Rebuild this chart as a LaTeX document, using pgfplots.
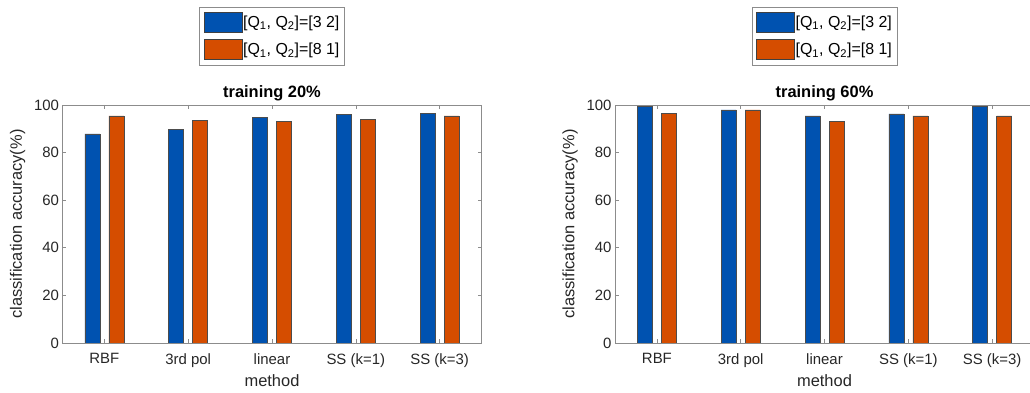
\documentclass[border=0pt]{standalone}
\usepackage{fontspec}
\setmainfont{Liberation Sans}
\usepackage{pgfplots}
\pgfplotsset{compat=1.18}

\definecolor{barblue}{RGB}{0,82,176}
\definecolor{barorange}{RGB}{213,77,0}
\definecolor{axgray}{RGB}{140,140,140}
\definecolor{txt}{RGB}{38,38,38}

% accuracy (%) per method: RBF, 3rd pol, linear, SS (k=1), SS (k=3)
\pgfplotsset{
  swatch/.style={legend image code/.code={%
      \draw[##1, draw=black!75, line width=0.5bp] (0bp,-10bp) rectangle (38bp,10bp);}},
  accplot/.style={
    scale only axis, width=419bp, height=238bp, anchor=south west,
    xmin=0.5, xmax=5.5, ymin=0, ymax=100,
    xtick={1,...,5}, ytick={0,20,...,100},
    xticklabels={RBF,3rd pol,linear,SS (k=1),SS (k=3)},
    tick align=inside, major tick length=4bp,
    axis line style={axgray, line width=0.7bp},
    tick style={axgray, line width=0.6bp},
    /pgf/number format/assume math mode=true,
    font=\fontsize{15}{18}\selectfont,
    ticklabel style={text=txt, font=\fontsize{15}{18}\selectfont},
    xticklabel style={yshift=-7bp},
    label style={text=txt, font=\fontsize{16.5}{19}\selectfont},
    xlabel={method}, ylabel={classification accuracy(\%)},
    xlabel style={at={(axis description cs:0.5,-0.16)}, anchor=center},
    ylabel style={at={(axis description cs:-0.107,0.5)}, anchor=center},
    title style={at={(axis description cs:0.5,1.05)}, anchor=center, yshift=-6bp,
      font=\bfseries\fontsize{16.5}{19}\selectfont, text=black},
    legend style={at={(axis description cs:0.5,1.168)}, anchor=south, draw=axgray,
      font=\fontsize{16}{19}\selectfont, text=black,
      nodes={inner xsep=1bp, inner ysep=1bp},
      cells={anchor=west}, row sep=7bp, inner xsep=4bp, inner ysep=5bp},
  },
  bluebar/.style={ybar, bar width=15bp, bar shift=-12bp,
    fill=barblue, draw=black!70, line width=0.5bp, swatch},
  orangebar/.style={ybar, bar width=15bp, bar shift=12bp,
    fill=barorange, draw=black!70, line width=0.5bp, swatch},
}

\begin{document}
\begin{tikzpicture}
\useasboundingbox (0bp,0bp) rectangle (1030bp,393bp);

\begin{axis}[accplot, at={(62.5bp,50bp)}, title={training 20\%}]
  \addplot[bluebar] coordinates {(1,87.9) (2,89.9) (3,94.8) (4,96.1) (5,96.6)};
  \addlegendentry{[Q\textsubscript{1}, Q\textsubscript{2}]=[3 2]}
  \addplot[orangebar] coordinates {(1,95.4) (2,93.6) (3,93.0) (4,94.0) (5,95.4)};
  \addlegendentry{[Q\textsubscript{1}, Q\textsubscript{2}]=[8 1]}
\end{axis}

\begin{axis}[accplot, at={(615bp,50bp)}, title={training 60\%}]
  \addplot[bluebar] coordinates {(1,99.3) (2,97.9) (3,95.4) (4,96.3) (5,99.3)};
  \addlegendentry{[Q\textsubscript{1}, Q\textsubscript{2}]=[3 2]}
  \addplot[orangebar] coordinates {(1,96.6) (2,97.9) (3,93.0) (4,95.4) (5,95.4)};
  \addlegendentry{[Q\textsubscript{1}, Q\textsubscript{2}]=[8 1]}
\end{axis}
\end{tikzpicture}
\end{document}
